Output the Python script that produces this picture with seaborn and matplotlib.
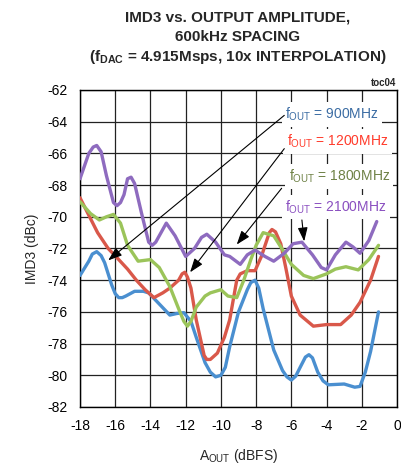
import numpy as np
import pandas as pd
import matplotlib
matplotlib.use("Agg")
import matplotlib.pyplot as plt
import seaborn as sns

# ---- data ----
x_900 = [-18, -17.5, -17.3, -17.05, -16.8, -16.6, -16.2, -16.0, -15.8, -15.6, -15.4, -14.9, -14.4, -14.1,
         -13.5, -12.9, -12.5, -12.1, -11.7, -11.4, -10.9, -10.6, -10.3, -10.0, -9.75, -9.5, -9.0, -8.5,
         -8.3, -8.06, -7.85, -7.6, -7.0, -6.5, -6.25, -6.0, -5.75, -5.5, -5.2, -5.0, -4.8, -4.5, -4.2,
         -3.9, -3.0, -2.4, -2.1, -1.8, -1.5, -1.05]
y_900 = [-73.7, -72.8, -72.35, -72.2, -72.45, -72.9, -74.3, -74.85, -75.1, -75.1, -75.0, -74.7, -74.7, -74.8,
         -75.5, -76.2, -76.1, -76.05, -76.6, -77.6, -79.2, -79.8, -80.1, -80.0, -79.5, -78.2, -76.0, -74.6,
         -74.15, -74.0, -74.5, -75.8, -78.4, -79.7, -80.1, -80.3, -80.05, -79.5, -78.85, -78.7, -78.9, -79.8, -80.35,
         -80.6, -80.55, -80.75, -80.7, -79.8, -78.5, -76.0]

x_1200 = [-18, -17.5, -17, -16.4, -15.8, -15.3, -14.8, -14.3, -13.8, -13.3, -12.9, -12.4, -12.2, -12.05,
          -11.9, -11.7, -11.4, -11.1, -10.95, -10.8, -10.6, -10.5, -10.2, -9.8, -9.5, -9.1, -8.9, -8.5,
          -8.06, -7.7, -7.4, -7.25, -7.1, -6.9, -6.6, -6.3, -6.0, -5.5, -4.75, -4.0, -3.2, -2.6, -2.1,
          -1.5, -1.05]
y_1200 = [-68.8, -69.9, -71.0, -72.0, -72.7, -73.3, -74.0, -74.6, -75.1, -74.8, -74.5, -74.0, -73.6, -73.5,
          -73.8, -74.5, -76.5, -78.0, -78.75, -79.0, -79.0, -78.9, -78.6, -77.6, -76.5, -74.0, -73.6, -73.4,
          -73.4, -72.5, -71.5, -71.0, -70.8, -70.95, -71.7, -73.3, -75.0, -76.2, -76.9, -76.8, -76.8, -76.2, -75.4,
          -74.0, -72.5]

x_1800 = [-18, -17.4, -16.9, -16.5, -16.1, -15.7, -15.3, -14.7, -14.0, -13.5, -12.9, -12.4, -12.1, -11.9,
          -11.7, -11.4, -10.9, -10.6, -10.0, -9.6, -9.1, -8.7, -8.3, -8.0, -7.6, -7.0, -6.6, -6.0, -5.3,
          -4.75, -4.0, -3.5, -2.9, -2.2, -1.6, -1.05]
y_1800 = [-69.05, -69.8, -70.2, -70.0, -69.85, -70.4, -71.8, -72.8, -72.7, -73.2, -74.4, -75.8, -76.6, -76.9,
          -76.6, -75.7, -75.0, -74.8, -74.6, -75.0, -75.1, -74.0, -72.7, -71.8, -71.0, -71.2, -71.9, -73.0, -73.7,
          -73.9, -73.6, -73.3, -73.15, -73.35, -72.7, -71.8]

x_2100 = [-18, -17.5, -17.25, -17.05, -16.8, -16.5, -16.1, -15.9, -15.7, -15.5, -15.3, -15.1, -14.9, -14.5,
          -14.1, -13.9, -13.7, -13.5, -13.1, -12.6, -12.0, -11.5, -11.1, -10.8, -10.3, -9.8, -9.5, -8.9,
          -8.5, -8.06, -7.5, -7.0, -6.4, -5.9, -5.4, -4.8, -4.3, -4.0, -3.5, -2.9, -2.5, -2.1, -1.6, -1.15]
y_2100 = [-67.6, -66.0, -65.6, -65.5, -65.9, -67.4, -69.1, -69.3, -69.1, -68.6, -67.6, -67.5, -67.9, -69.8,
          -71.6, -71.8, -71.6, -71.2, -70.4, -71.2, -72.5, -72.0, -71.3, -71.1, -71.6, -72.4, -72.5, -73.0,
          -72.4, -72.1, -72.5, -72.8, -72.3, -71.7, -71.6, -72.4, -73.2, -73.35, -72.4, -71.6, -71.9, -72.3,
          -71.5, -70.3]

series_names = ["900MHz", "1200MHz", "1800MHz", "2100MHz"]
line_colors = ["#4a8fd0", "#d9584a", "#9bc45a", "#8e6bbf"]
text_colors = ["#3b6ca3", "#ff3b2b", "#6e8145", "#8a4fc0"]

x_ticks = list(range(-18, 1, 2))
y_ticks = list(range(-82, -61, 2))

# ---- build table ----
frames = []
for name, xs, ys in zip(series_names,
                        [x_900, x_1200, x_1800, x_2100],
                        [y_900, y_1200, y_1800, y_2100]):
    frames.append(pd.DataFrame({"A_OUT": xs, "IMD3": ys, "f": name}))
df = pd.concat(frames, ignore_index=True)

sns.set_theme(style="white")
plt.rcParams["font.family"] = ["Liberation Sans", "DejaVu Sans"]
plt.rcParams["mathtext.fontset"] = "custom"
plt.rcParams["mathtext.rm"] = "Liberation Sans"
plt.rcParams["mathtext.it"] = "Liberation Sans:italic"
plt.rcParams["mathtext.bf"] = "Liberation Sans:bold"

fig = plt.figure(figsize=(4.02, 4.70), dpi=100)
ax = fig.add_axes([80 / 402, 1 - 407 / 470, 317 / 402, 317 / 470])

sns.lineplot(data=df, x="A_OUT", y="IMD3", hue="f", palette=line_colors, hue_order=series_names,
             sort=False, estimator=None, units="f", linewidth=2.4, legend=False, ax=ax, zorder=3)
for ln in ax.get_lines():
    ln.set_solid_joinstyle("round")
    ln.set_solid_capstyle("round")

ax.set_xlim(-18, 0)
ax.set_ylim(-82, -62)
ax.set_xticks(x_ticks)
ax.set_yticks(y_ticks)
ax.set_xticklabels([str(t) for t in x_ticks])
ax.set_yticklabels([str(t) for t in y_ticks])
ax.tick_params(axis="both", length=0, labelsize=10, colors="#000000")
ax.tick_params(axis="x", pad=9)
ax.tick_params(axis="y", pad=9)
ax.grid(True, color="#222222", linewidth=0.9)
ax.set_axisbelow(True)
for s in ax.spines.values():
    s.set_color("#000000")
    s.set_linewidth(1.0)

ax.set_xlabel(r"A$_{\mathrm{OUT}}$ (dBFS)", fontsize=10, labelpad=10)
ax.set_ylabel("IMD3 (dBc)", fontsize=10, labelpad=6)

fig.text(238 / 402, 1 - 17 / 470, "IMD3 vs. OUTPUT AMPLITUDE,", ha="center", va="center",
         fontsize=11, fontweight="bold")
fig.text(238 / 402, 1 - 37 / 470, "600kHz SPACING", ha="center", va="center",
         fontsize=11, fontweight="bold")
fig.text(238 / 402, 1 - 57 / 470, r"(f$_{\mathbf{DAC}}$ = 4.915Msps, 10x INTERPOLATION)", ha="center",
         va="center", fontsize=11, fontweight="bold")
fig.text(396 / 402, 1 - 83 / 470, "toc04", ha="right", va="center", fontsize=7, fontweight="bold")

# ---- annotations ----
label_pos = [(-6.35, -63.55), (-6.25, -65.25), (-6.15, -67.45), (-6.35, -69.4)]
arrow_tail = [(-6.4, -63.6), (-6.4, -65.7), (-6.55, -68.2), (-5.4, -70.2)]
arrow_head = [(-16.4, -72.75), (-11.75, -73.5), (-9.1, -71.75), (-5.27, -71.55)]

for name, tc, lp in zip(series_names, text_colors, label_pos):
    ax.text(lp[0], lp[1], r"f$_{\mathrm{OUT}}$ = " + name, color=tc, fontsize=10, ha="left", va="center",
            zorder=4, bbox=dict(boxstyle="square,pad=0.25", fc="white", ec="none"))

for t, h in zip(arrow_tail, arrow_head):
    ax.annotate("", xy=h, xytext=t, zorder=6,
                arrowprops=dict(arrowstyle="-|>,head_length=0.7,head_width=0.25", color="black", lw=0.8,
                                shrinkA=0, shrinkB=0))

fig.savefig("out.png", dpi=100)
